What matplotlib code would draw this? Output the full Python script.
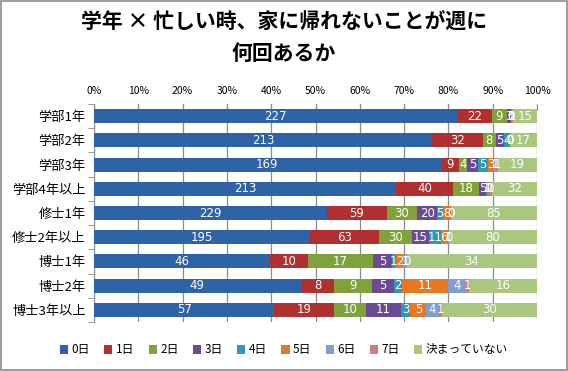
import matplotlib
matplotlib.use("Agg")
import matplotlib.pyplot as plt
import numpy as np
from matplotlib.ticker import FixedLocator, PercentFormatter

plt.rcParams['font.family'] = ['Noto Sans CJK JP', 'DejaVu Sans']

grades = ["学部1年", "学部2年", "学部3年", "学部4年以上", "修士1年",
          "修士2年以上", "博士1年", "博士2年", "博士3年以上"]
series = ["0日", "1日", "2日", "3日", "4日", "5日", "6日", "7日", "決まっていない"]
counts = np.array([
    [227, 22, 9, 3, 0, 0, 0, 1, 15],
    [213, 32, 8, 5, 4, 0, 0, 0, 17],
    [169, 9, 4, 5, 5, 3, 1, 1, 19],
    [213, 40, 18, 5, 1, 2, 0, 1, 32],
    [229, 59, 30, 20, 5, 8, 0, 0, 85],
    [195, 63, 30, 15, 11, 6, 1, 0, 80],
    [46, 10, 17, 5, 1, 2, 1, 0, 34],
    [49, 8, 9, 5, 2, 11, 4, 1, 16],
    [57, 19, 10, 11, 3, 5, 4, 1, 30],
])
colors = ["#2F63A8", "#B0302F", "#7FA23A", "#6A4A93", "#2C9AB6",
          "#E8771E", "#7F9FD0", "#CF7E7C", "#A9C77E"]

share = counts / counts.sum(axis=1, keepdims=True)

fig = plt.figure(figsize=(5.68, 3.71), dpi=100)
fig.patches.append(plt.Rectangle((0.001, 0.002), 0.997, 0.996, transform=fig.transFigure,
                                 fill=False, edgecolor="#8c8c8c", linewidth=1.2))
ax = fig.add_axes([94 / 568, 1 - 322 / 371, 443 / 568, 218 / 371])

y = np.arange(len(grades))
left = np.zeros(len(grades))
for j, name in enumerate(series):
    ax.barh(y, share[:, j], left=left, height=0.58, color=colors[j],
            label=name, zorder=3)
    for i in range(len(grades)):
        ax.text(left[i] + share[i, j] / 2, y[i], str(counts[i, j]),
                ha="center", va="center", color="white", fontsize=8.5,
                family=["DejaVu Sans"], zorder=4)
    left += share[:, j]

ax.set_xlim(0, 1)
ax.set_ylim(len(grades) - 0.5, -0.5)
ax.xaxis.set_major_locator(FixedLocator(np.linspace(0, 1, 11)))
ax.xaxis.set_major_formatter(PercentFormatter(1.0, decimals=0))
ax.xaxis.tick_top()
ax.tick_params(axis="x", length=4, direction="in", color="#8c8c8c",
               labelsize=7.5, pad=6)
ax.grid(axis="x", color="#8c8c8c", linewidth=0.9, zorder=0)

ax.set_yticks(y)
ax.set_yticklabels(grades, fontsize=9.5)
ax.set_yticks(np.arange(len(grades) + 1) - 0.5, minor=True)
ax.tick_params(axis="y", which="major", length=0, pad=6)
ax.tick_params(axis="y", which="minor", length=4, color="#8c8c8c")

for s in ["right", "bottom", "top"]:
    ax.spines[s].set_visible(False)
ax.spines["left"].set_color("#8c8c8c")

fig.text(0.5, 1 - 22 / 371, "学年 × 忙しい時、家に帰れないことが週に", ha="center",
         va="center", fontsize=15, fontweight="bold")
fig.text(0.5, 1 - 53 / 371, "何回あるか", ha="center", va="center",
         fontsize=15, fontweight="bold")

fig.legend(loc="center", bbox_to_anchor=(0.5, 1 - 350 / 371), ncol=9,
           frameon=False, fontsize=8.5, handlelength=0.7, handleheight=0.7,
           handletextpad=0.3, columnspacing=1.2)

fig.savefig("out.png", dpi=100)
